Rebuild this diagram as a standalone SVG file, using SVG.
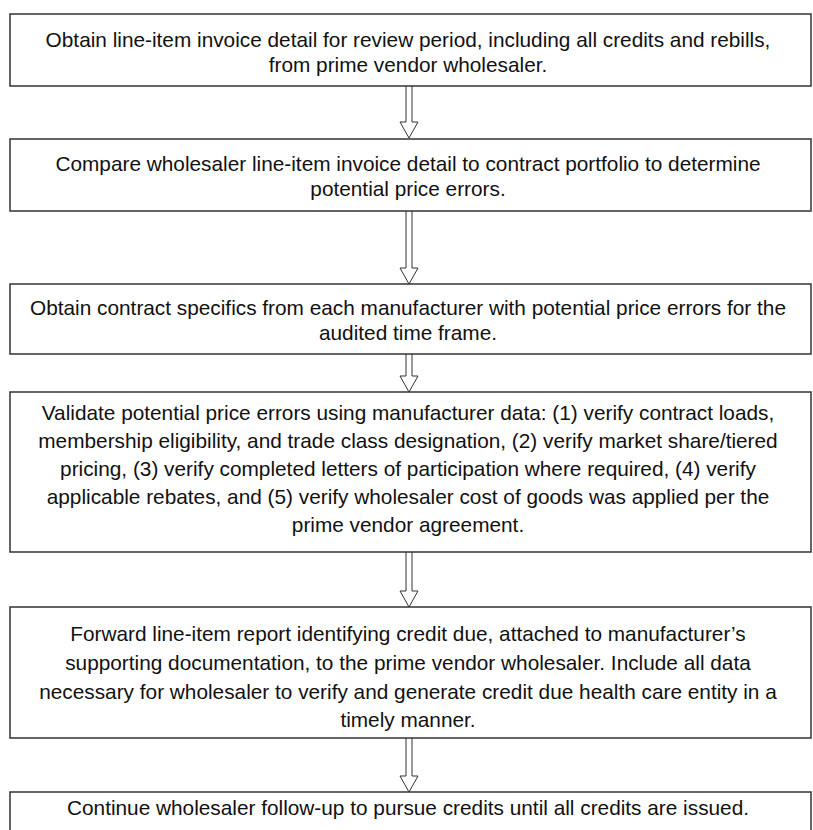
<svg xmlns="http://www.w3.org/2000/svg" width="813" height="830" viewBox="0 0 813 830">
<style>
.box{fill:#fff;stroke:#333;stroke-width:1.5}
.t{font-family:"Liberation Sans",Arial,sans-serif;font-size:20.8px;fill:#111;text-anchor:middle}
.arr{fill:#fff;stroke:#333;stroke-width:1}
</style>
<rect width="813" height="830" fill="#fff"/>
<g id="connectors">
<path class="arr" d="M406,86 V122 H400 L409,138 L418,122 H412 V86"/>
<path class="arr" d="M406,211 V268 H400 L409,284 L418,268 H412 V211"/>
<path class="arr" d="M406,354 V376 H400 L409,392 L418,376 H412 V354"/>
<path class="arr" d="M406,552 V591 H400 L409,607 L418,591 H412 V552"/>
<path class="arr" d="M406,738 V776 H400 L409,792 L418,776 H412 V738"/>
</g>
<g id="n1">
<rect class="box" x="10" y="14" width="801" height="72"/>
<text class="t" x="408" y="47">Obtain line-item invoice detail for review period, including all credits and rebills,</text>
<text class="t" x="408" y="72">from prime vendor wholesaler.</text>
</g>
<g id="n2">
<rect class="box" x="10" y="139" width="801" height="72"/>
<text class="t" x="408" y="171">Compare wholesaler line-item invoice detail to contract portfolio to determine</text>
<text class="t" x="408" y="196">potential price errors.</text>
</g>
<g id="n3">
<rect class="box" x="10" y="284" width="801" height="70"/>
<text class="t" x="408" y="315">Obtain contract specifics from each manufacturer with potential price errors for the</text>
<text class="t" x="408" y="340">audited time frame.</text>
</g>
<g id="n4">
<rect class="box" x="10" y="392" width="801" height="160"/>
<text class="t" x="408" y="420">Validate potential price errors using manufacturer data: (1) verify contract loads,</text>
<text class="t" x="408" y="448">membership eligibility, and trade class designation, (2) verify market share/tiered</text>
<text class="t" x="408" y="476">pricing, (3) verify completed letters of participation where required, (4) verify</text>
<text class="t" x="408" y="504">applicable rebates, and (5) verify wholesaler cost of goods was applied per the</text>
<text class="t" x="408" y="532">prime vendor agreement.</text>
</g>
<g id="n5">
<rect class="box" x="10" y="607" width="801" height="131"/>
<text class="t" x="408" y="641">Forward line-item report identifying credit due, attached to manufacturer’s</text>
<text class="t" x="408" y="670">supporting documentation, to the prime vendor wholesaler. Include all data</text>
<text class="t" x="408" y="699">necessary for wholesaler to verify and generate credit due health care entity in a</text>
<text class="t" x="408" y="727">timely manner.</text>
</g>
<g id="n6">
<rect class="box" x="10" y="792" width="801" height="60"/>
<text class="t" x="408" y="815">Continue wholesaler follow-up to pursue credits until all credits are issued.</text>
</g>
</svg>
